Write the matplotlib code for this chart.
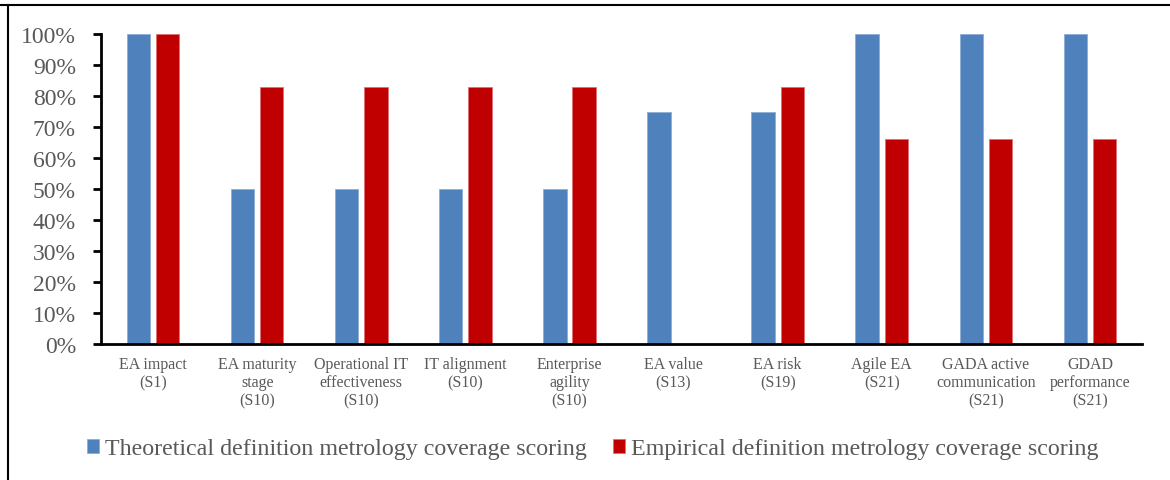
import matplotlib.pyplot as plt
import numpy as np
from matplotlib.lines import Line2D
from matplotlib.ticker import PercentFormatter

# Data
categories = ["EA impact\n(S1)", "EA maturity\nstage\n(S10)", "Operational IT\neffectiveness\n(S10)",
              "IT alignment\n(S10)", "Enterprise\nagility\n(S10)", "EA value\n(S13)", "EA risk\n(S19)",
              "Agile EA\n(S21)", "GADA active\ncommunication\n(S21)", "GDAD\nperformance\n(S21)"]
theoretical = [100, 50, 50, 50, 50, 75, 75, 100, 100, 100]
empirical = [100, 83, 83, 83, 83, 0, 83, 66, 66, 66]

plt.rcParams['font.family'] = ['Liberation Serif', 'DejaVu Serif']
grey = '#595959'

fig = plt.figure(figsize=(11.7, 4.81), dpi=100)
ax = fig.add_axes([101 / 1170, 1 - 345 / 481, (1142 - 101) / 1170, 310 / 481])

x = np.arange(len(categories))
w = 0.225
off = 0.14
ax.bar(x - off, theoretical, w, color='#4F81BD', edgecolor='#8EADD6', linewidth=0.6,
       label='Theoretical definition metrology coverage scoring')
ax.bar(x + off, empirical, w, color='#C00000', edgecolor='#E07070', linewidth=0.6,
       label='Empirical definition metrology coverage scoring')

ax.set_xlim(-0.5, len(categories) - 0.5)
ax.set_ylim(0, 100)
ax.set_yticks(np.arange(0, 101, 10))
ax.yaxis.set_major_formatter(PercentFormatter(decimals=0))
ax.set_xticks(x)
ax.set_xticklabels(categories, fontsize=11.5, color=grey, linespacing=1.15)
ax.tick_params(axis='x', length=0, pad=9)
ax.tick_params(axis='y', labelsize=17, labelcolor=grey, length=6, width=2, pad=12)

for s in ['top', 'right']:
    ax.spines[s].set_visible(False)
for s in ['left', 'bottom']:
    ax.spines[s].set_linewidth(2)

fig.legend(loc='center', bbox_to_anchor=(0.5 + 8 / 1170, 1 - 450 / 481), ncol=2, frameon=False,
           fontsize=17.3, handlelength=0.5, handleheight=0.5, handletextpad=0.25,
           columnspacing=1.1, labelcolor=grey)

# outer frame lines (top and left)
fig.add_artist(Line2D([0, 1], [1 - 6 / 481, 1 - 6 / 481], color='black', linewidth=1.5,
                      transform=fig.transFigure))
fig.add_artist(Line2D([8 / 1170, 8 / 1170], [0, 1 - 6 / 481], color='black', linewidth=1.5,
                      transform=fig.transFigure))

fig.savefig('out.png', dpi=100)
